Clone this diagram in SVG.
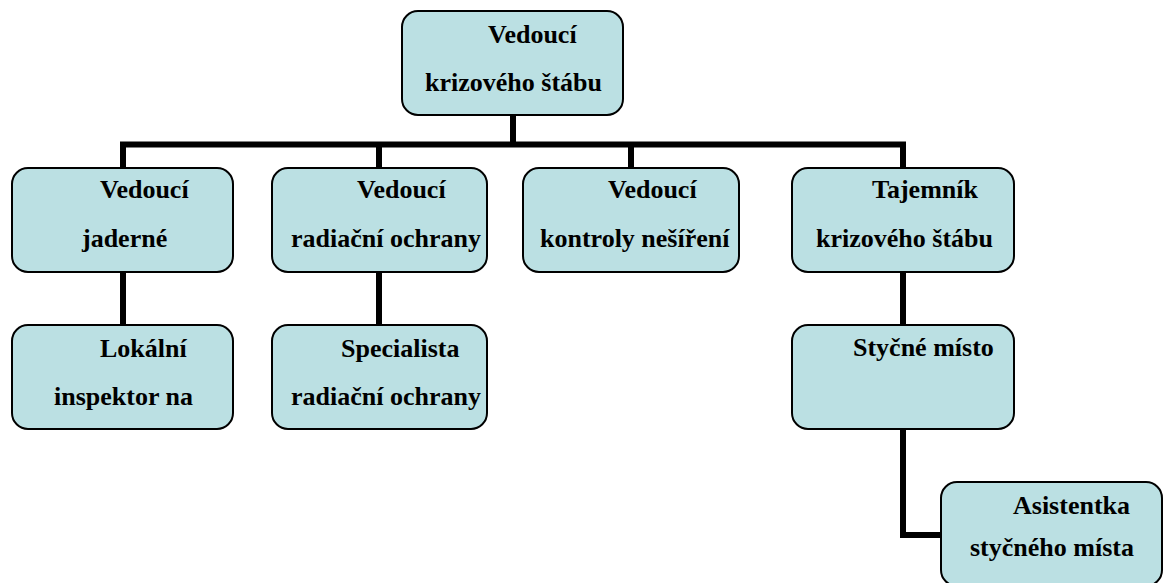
<svg xmlns="http://www.w3.org/2000/svg" width="1164" height="583" viewBox="0 0 1164 583">
<style>
.box{fill:#BBE0E3;stroke:#000;stroke-width:2}
.t{font-family:"Liberation Serif","DejaVu Serif",serif;font-weight:bold;font-size:26px;fill:#000}
.c{fill:none;stroke:#000;stroke-width:6}
</style>
<rect width="1164" height="583" fill="#fff"/>
<g id="connectors">
<path class="c" d="M513,115 V144.5"/>
<path class="c" d="M123,168 V144.5 H903 V168"/>
<path class="c" d="M379,144.5 V168"/>
<path class="c" d="M631,144.5 V168"/>
<path class="c" d="M123,272 V325"/>
<path class="c" d="M379,272 V325"/>
<path class="c" d="M903,272 V325"/>
<path class="c" d="M903,429 V535 H941"/>
</g>
<g id="n-top"><rect class="box" x="402" y="11" width="221" height="104" rx="16"/>
<text class="t" x="488" y="43">Vedoucí</text><text class="t" x="425" y="91">krizového štábu</text></g>
<g id="n-jaderne"><rect class="box" x="12" y="168" width="221" height="104" rx="16"/>
<text class="t" x="100" y="198">Vedoucí</text><text class="t" x="82" y="247">jaderné</text></g>
<g id="n-radiacni"><rect class="box" x="272" y="168" width="215" height="104" rx="16"/>
<text class="t" x="357" y="198">Vedoucí</text><text class="t" x="291" y="247">radiační ochrany</text></g>
<g id="n-kontroly"><rect class="box" x="523" y="168" width="216" height="104" rx="16"/>
<text class="t" x="608" y="198">Vedoucí</text><text class="t" x="540" y="247">kontroly nešíření</text></g>
<g id="n-tajemnik"><rect class="box" x="792" y="168" width="222" height="104" rx="16"/>
<text class="t" x="872" y="198">Tajemník</text><text class="t" x="816" y="247">krizového štábu</text></g>
<g id="n-lokalni"><rect class="box" x="12" y="325" width="221" height="104" rx="16"/>
<text class="t" x="100" y="357">Lokální</text><text class="t" x="54" y="405">inspektor na</text></g>
<g id="n-specialista"><rect class="box" x="272" y="325" width="215" height="104" rx="16"/>
<text class="t" x="341" y="357">Specialista</text><text class="t" x="291" y="405">radiační ochrany</text></g>
<g id="n-stycne"><rect class="box" x="792" y="325" width="222" height="104" rx="16"/>
<text class="t" x="853" y="356">Styčné místo</text></g>
<g id="n-asistentka"><rect class="box" x="941" y="482" width="221" height="104" rx="16"/>
<text class="t" x="1013" y="514">Asistentka</text><text class="t" x="970" y="556">styčného místa</text></g>
</svg>
